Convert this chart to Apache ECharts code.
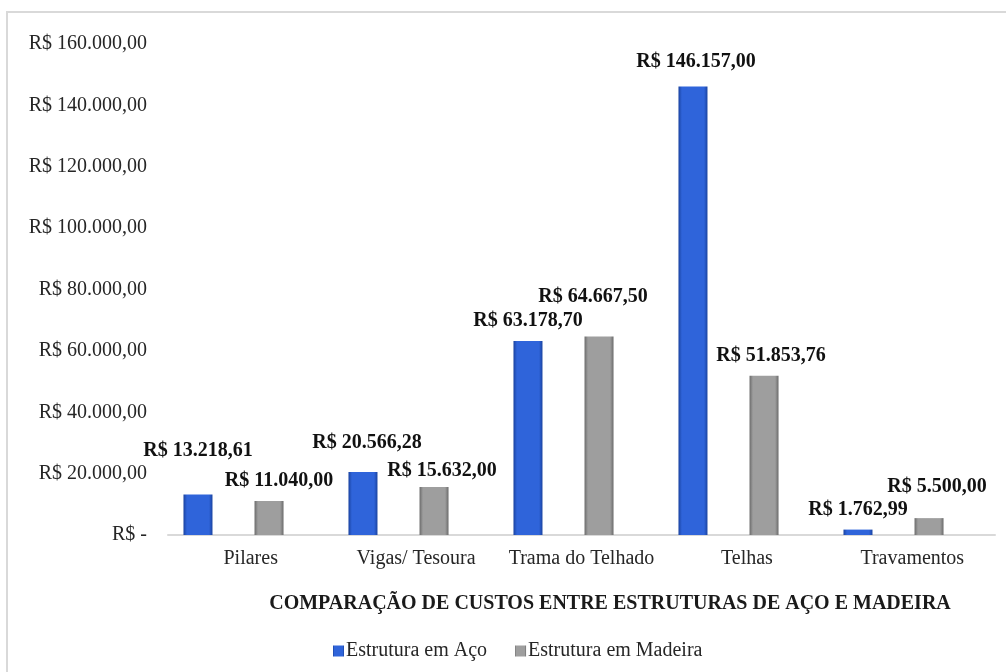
<!DOCTYPE html>
<html>
<head>
<meta charset="utf-8">
<script src="https://cdn.jsdelivr.net/npm/echarts@6/dist/echarts.min.js"></script>
<style>
  html, body { margin: 0; padding: 0; background: #fff; }
  #container { width: 1006px; height: 672px; }
</style>
</head>
<body>
<div id="container"></div>
<script>
var categories = ['Pilares', 'Vigas/ Tesoura', 'Trama do Telhado', 'Telhas', 'Travamentos'];
var acoValues = [13218.61, 20566.28, 63178.70, 146157.00, 1762.99];
var madeiraValues = [11040.00, 15632.00, 64667.50, 51853.76, 5500.00];
var yTicks = [0, 20000, 40000, 60000, 80000, 100000, 120000, 140000, 160000];

// ajuste manual dos rótulos (como no Excel)
var acoLabelShift = [[0, -24], [4, -9], [0, 0], [3, -5], [0, 0]];
var madeiraLabelShift = [[10, 0], [8, 4], [-6, -20], [7, 0], [8, -11]];

var serif = '"Liberation Serif", "Times New Roman", serif';

function brl(v) {
    var parts = v.toFixed(2).split('.');
    var inteiro = parts[0].replace(/\B(?=(\d{3})+(?!\d))/g, '.');
    return inteiro + ',' + parts[1];
}

function barGradient(edge, mid) {
    return new echarts.graphic.LinearGradient(0, 0, 1, 0, [
        { offset: 0, color: edge },
        { offset: 0.12, color: mid },
        { offset: 0.88, color: mid },
        { offset: 1, color: edge }
    ]);
}

function buildData(values, shifts) {
    return values.map(function (v, i) {
        return { value: v, label: { offset: shifts[i] } };
    });
}

var myChart = echarts.init(document.getElementById('container'));

option = {
    animation: false,
    graphic: [
        {
            type: 'rect',
            shape: { x: 7, y: 12, width: 1010, height: 680 },
            style: { fill: 'none', stroke: '#d9d9d9', lineWidth: 2 },
            silent: true
        },
        {
            type: 'text',
            x: 610,
            y: 604,
            style: {
                text: 'COMPARAÇÃO DE CUSTOS ENTRE ESTRUTURAS DE AÇO E MADEIRA',
                font: 'bold 20px ' + serif,
                fill: '#1a1a1a',
                textAlign: 'center',
                textVerticalAlign: 'middle'
            }
        }
    ],
    legend: {
        left: 328,
        top: 636,
        itemWidth: 11,
        itemHeight: 11,
        itemGap: 28,
        icon: 'rect',
        textStyle: { fontFamily: serif, fontSize: 20, color: '#262626', padding: [0, 0, 0, -3] },
        data: ['Estrutura em Aço', 'Estrutura em Madeira']
    },
    grid: [
        { left: 151, right: 30, top: 44, bottom: 137 },
        { left: 168, right: 11, top: 44, bottom: 137 }
    ],
    xAxis: [
        { type: 'category', gridIndex: 0, data: categories, show: false },
        {
            type: 'category',
            gridIndex: 1,
            data: categories,
            axisLine: { lineStyle: { color: '#d9d9d9', width: 2 } },
            axisTick: { show: false },
            axisLabel: { interval: 0, fontFamily: serif, fontSize: 20, color: '#262626', margin: 14 }
        }
    ],
    yAxis: [
        {
            type: 'value',
            gridIndex: 0,
            min: yTicks[0],
            max: yTicks[yTicks.length - 1],
            interval: yTicks[1] - yTicks[0],
            axisLine: { show: false },
            axisTick: { show: false },
            splitLine: { show: false },
            axisLabel: {
                fontFamily: serif,
                fontSize: 20,
                color: '#262626',
                margin: 4,
                formatter: function (v) {
                    return v === 0 ? 'R$ -' : 'R$ ' + brl(v);
                }
            }
        },
        { type: 'value', gridIndex: 1, min: 0, max: 160000, show: false }
    ],
    series: [
        {
            name: 'Estrutura em Aço',
            type: 'bar',
            xAxisIndex: 0,
            yAxisIndex: 0,
            barWidth: 29,
            barGap: '145%',
            itemStyle: { color: barGradient('#1a43a0', '#2f64da') },
            label: {
                show: true,
                position: 'top',
                distance: 10,
                fontFamily: serif,
                fontSize: 20,
                fontWeight: 'bold',
                color: '#111',
                formatter: function (p) { return 'R$ ' + brl(p.value); }
            },
            data: buildData(acoValues, acoLabelShift)
        },
        {
            name: 'Estrutura em Madeira',
            type: 'bar',
            xAxisIndex: 0,
            yAxisIndex: 0,
            barWidth: 29,
            barGap: '145%',
            itemStyle: { color: barGradient('#6b6b6b', '#9e9e9e') },
            label: {
                show: true,
                position: 'top',
                distance: 10,
                fontFamily: serif,
                fontSize: 20,
                fontWeight: 'bold',
                color: '#111',
                formatter: function (p) { return 'R$ ' + brl(p.value); }
            },
            data: buildData(madeiraValues, madeiraLabelShift)
        }
    ]
};

myChart.setOption(option);
</script>
</body>
</html>
